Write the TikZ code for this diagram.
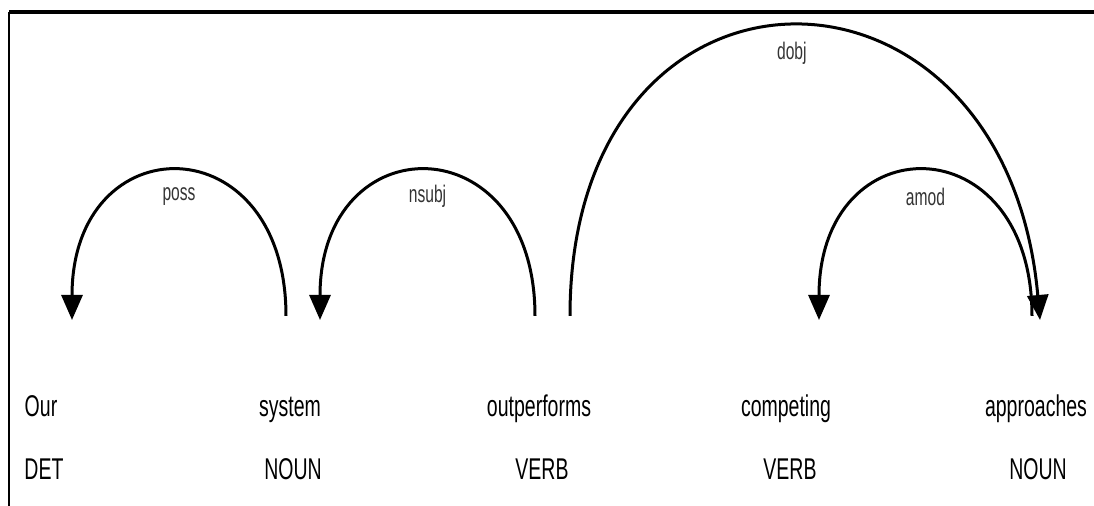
\documentclass[tikz,border=0pt]{standalone}
\usepackage{fontspec}
\setmainfont{Liberation Sans}[FakeStretch=0.65]
\usetikzlibrary{arrows.meta}
\begin{document}
\begin{tikzpicture}[x=0.5pt,y=0.5pt,
        word/.style={anchor=base,font=\fontsize{15}{18}\selectfont},
        arc/.style={line width=1.5pt,-{Triangle[length=12.5pt,width=10.5pt]}},
        dep/.style={font=\fontsize{12}{14}\selectfont,text=black!80}]
    \useasboundingbox (0,0) rectangle (1094,506);
    % frame
    \draw [line width=1.8pt] (9,494) -- (1094,494);
    \draw [line width=1.2pt] (9,0) -- (9,494);
    % words and tags
    \node [word] (w1) at (41,89) {Our};
    \node [word] (w2) at (290,89) {system};
    \node [word] (w3) at (539,89) {outperforms};
    \node [word] (w4) at (786,89) {competing};
    \node [word] (w5) at (1036,89) {approaches};
    \node [word] (t1) at (44,26) {DET};
    \node [word] (t2) at (293,26) {NOUN};
    \node [word] (t3) at (542,26) {VERB};
    \node [word] (t4) at (790,26) {VERB};
    \node [word] (t5) at (1038,26) {NOUN};
    % arc ends
    \coordinate (a1) at (72,186);
    \coordinate (s2) at (286,190);
    \coordinate (a2) at (320,186);
    \coordinate (s3) at (535,190);
    \coordinate (d3) at (570,190);
    \coordinate (a4) at (819,186);
    \coordinate (s5) at (1032,190);
    \coordinate (a5) at (1040,186);
    % dependencies
    \draw [arc] (s2) .. controls +(0,193) and +(0,197) .. (a1)
        node [dep,midway,yshift=-12.5pt] {poss};
    \draw [arc] (s3) .. controls +(0,193) and +(0,197) .. (a2)
        node [dep,midway,yshift=-12.5pt] {nsubj};
    \draw [arc] (d3) .. controls +(0,386) and +(-35,390) .. (a5)
        node [dep,midway,yshift=-13pt] {dobj};
    \draw [arc] (s5) .. controls +(0,193) and +(0,197) .. (a4)
        node [dep,midway,yshift=-12.5pt] {amod};
\end{tikzpicture}
\end{document}
